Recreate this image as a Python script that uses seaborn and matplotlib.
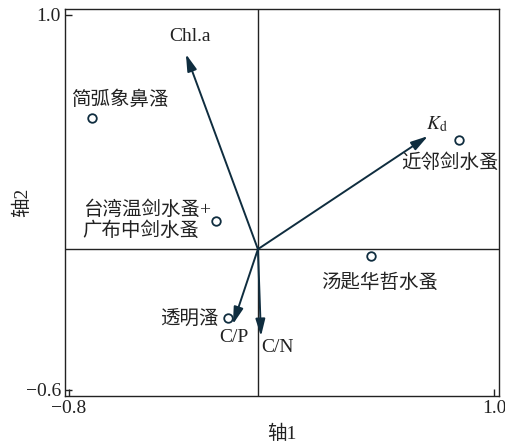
import matplotlib
matplotlib.use("Agg")
import matplotlib.pyplot as plt
import seaborn as sns
import pandas as pd

sns.set_theme(style="white")
plt.rcParams['font.family'] = ['Liberation Serif', 'Noto Sans CJK SC', 'DejaVu Sans']
plt.rcParams['mathtext.fontset'] = 'stix'

# species scores
species = ["简弧象鼻溞", "台湾温剑水蚤+\n广布中剑水蚤", "近邻剑水蚤", "汤匙华哲水蚤", "透明溞"]
sp_x = [-0.703, -0.178, 0.852, 0.479, -0.127]
sp_y = [0.559, 0.119, 0.465, -0.030, -0.294]
# label positions
sp_lx = [-0.585, -0.742, 0.814, 0.517, -0.292]
sp_ly = [0.635, 0.124, 0.367, -0.141, -0.299]
sp_ha = ["center", "left", "center", "center", "center"]

# environmental vectors
env = ["Chl.a", r"$K_\mathrm{d}$", "C/P", "C/N"]
env_x = [-0.305, 0.720, -0.106, 0.013]
env_y = [0.832, 0.482, -0.320, -0.371]
env_lx = [-0.288, 0.758, -0.102, 0.085]
env_ly = [0.908, 0.533, -0.375, -0.418]

col = "#0f2d3f"
fs = 14

df = pd.DataFrame({"x": sp_x, "y": sp_y, "sp": species})

fig, ax = plt.subplots(figsize=(5.06, 4.45), dpi=100)
fig.subplots_adjust(left=65/506, right=499/506, top=1-9/445, bottom=1-396/445)

ax.axhline(0, color="#222222", lw=1.0, zorder=1)
ax.axvline(0, color="#222222", lw=1.0, zorder=1)

sns.scatterplot(data=df, x="x", y="y", ax=ax, s=38, facecolor="white",
                edgecolor=col, linewidth=1.3, zorder=4, legend=False)

for name, lx, ly, ha in zip(species, sp_lx, sp_ly, sp_ha):
    ax.text(lx, ly, name, ha=ha, va="center", fontsize=fs, color="#222222",
            linespacing=1.15)

for name, x, y, lx, ly in zip(env, env_x, env_y, env_lx, env_ly):
    ax.annotate("", xy=(x, y), xytext=(0, 0),
                arrowprops=dict(arrowstyle="-|>,head_length=0.85,head_width=0.24",
                                color=col, lw=1.4, shrinkA=0, shrinkB=0), zorder=3)
    ax.text(lx, ly, name, ha="center", va="center", fontsize=fs, color="#222222")

ax.set_xlim(-0.817, 1.021)
ax.set_ylim(-0.626, 1.024)
ax.set_xticks([-0.8, 1.0])
ax.set_yticks([-0.6, 1.0])
ax.set_xticklabels(["\u22120.8", "1.0"])
ax.set_yticklabels(["\u22120.6", "1.0"])
ax.tick_params(axis="both", direction="in", length=5, width=1.0, color="#222222",
               labelsize=fs, labelcolor="#222222", bottom=True, left=True, pad=3)
for s in ax.spines.values():
    s.set_color("#222222")
    s.set_linewidth(1.0)

ax.set_xlabel("轴1", fontsize=fs, color="#222222", va="center")
ax.set_ylabel("轴2", fontsize=fs, color="#222222", va="center")
ax.xaxis.set_label_coords(0.5, -0.098)
ax.yaxis.set_label_coords(-0.099, 0.5)

fig.savefig("out.png", dpi=100)
